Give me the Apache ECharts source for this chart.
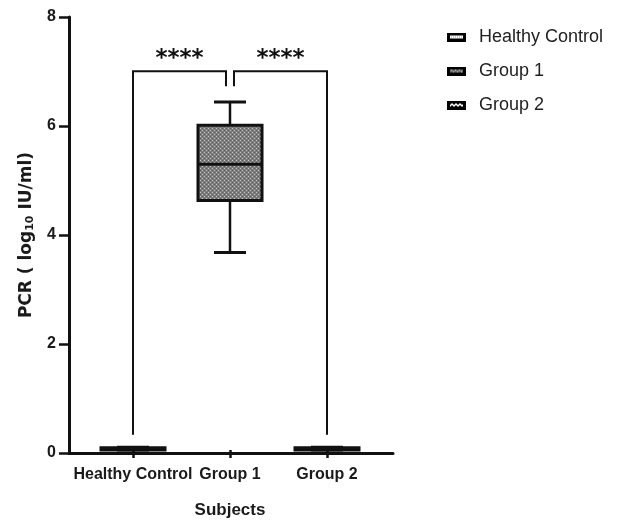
<!DOCTYPE html>
<html>
<head>
<meta charset="utf-8">
<script src="https://cdn.jsdelivr.net/npm/echarts@6/dist/echarts.min.js"></script>
<style>
  html, body { margin: 0; padding: 0; background: #fff; }
  #chart { width: 618px; height: 524px; }
</style>
</head>
<body>
<div id="chart"></div>
<script>
// Groups on the x axis
const categories = ['Healthy Control', 'Group 1', 'Group 2'];
// Five-number summaries per group: min, Q1, median, Q3, max (log10 IU/ml)
const healthyControl = [0, 0, 0.02, 0.04, 0.05];
const group1 = [3.65, 4.61, 5.28, 6.0, 6.43];
const group2 = [0, 0, 0.02, 0.04, 0.05];
// Value axis ticks
const yTicks = [0, 2, 4, 6, 8];
// Significance brackets: [from group, to group, bracket level, end level at 'from', end level at 'to', label level]
const brackets = [
  [0, 1, 7.0, 0.28, 6.72, 7.3],
  [2, 1, 7.0, 0.28, 6.72, 7.3]
];
const bracketLabels = ['****', '****'];

const INK = '#111';
const TEXT = '#1a1a1a';
const FONT = "'Liberation Sans', Arial, sans-serif";

// Dotted grey fill used for the Group 1 box
function makeDotPattern() {
  const c = document.createElement('canvas');
  c.width = 4; c.height = 4;
  const g = c.getContext('2d');
  g.fillStyle = '#7c7c7c';
  g.fillRect(0, 0, 4, 4);
  g.fillStyle = '#c4c4c4';
  g.fillRect(0, 0, 1, 1);
  g.fillRect(2, 2, 1, 1);
  g.fillStyle = '#5e5e5e';
  g.fillRect(2, 0, 1, 1);
  g.fillRect(0, 2, 1, 1);
  return c;
}

// Small legend swatches
function makeIcon(kind) {
  const w = 19, h = 9;
  const c = document.createElement('canvas');
  c.width = w; c.height = h;
  const g = c.getContext('2d');
  g.fillStyle = '#000';
  g.fillRect(0, 0, w, h);
  if (kind === 0) {
    g.fillStyle = '#fff';
    g.fillRect(3, 3, w - 6, h - 6);
    g.fillStyle = '#9a9a9a';
    for (let x = 4; x < w - 4; x += 2) g.fillRect(x, 4, 1, 1);
  } else if (kind === 1) {
    g.fillStyle = '#6e6e6e';
    g.fillRect(3, 3, w - 6, h - 6);
    g.fillStyle = '#d0d0d0';
    for (let x = 4; x < w - 4; x += 2) g.fillRect(x, (x % 4 === 0) ? 3 : 5, 1, 1);
  } else {
    g.fillStyle = '#fff';
    for (let x = 3; x < w - 3; x++) {
      const y = (Math.floor(x / 2) % 2 === 0) ? 3 : 5;
      g.fillRect(x, y, 1, 1);
      g.fillRect(x, 4, 1, 1);
    }
  }
  return c.toDataURL();
}

const dotPattern = makeDotPattern();
const boxFills = ['#ffffff', { image: dotPattern, repeat: 'repeat' }, '#ffffff'];
const summaries = [healthyControl, group1, group2];

function boxItem(params, api) {
  const c = api.value(0);
  const pMin = api.coord([c, api.value(1)]);
  const pQ1 = api.coord([c, api.value(2)]);
  const pMed = api.coord([c, api.value(3)]);
  const pQ3 = api.coord([c, api.value(4)]);
  const pMax = api.coord([c, api.value(5)]);
  const band = api.size([1, 0])[0];
  const hw = band * 0.33;
  const cw = band * 0.165;
  const x = pMed[0];
  const line = { stroke: INK, lineWidth: 2.5 };
  return {
    type: 'group',
    children: [
      { type: 'line', shape: { x1: x, y1: pMax[1], x2: x, y2: pQ3[1] }, style: line },
      { type: 'line', shape: { x1: x, y1: pQ1[1], x2: x, y2: pMin[1] }, style: line },
      { type: 'line', shape: { x1: x - cw, y1: pMax[1], x2: x + cw, y2: pMax[1] }, style: { stroke: INK, lineWidth: 3 } },
      { type: 'line', shape: { x1: x - cw, y1: pMin[1], x2: x + cw, y2: pMin[1] }, style: { stroke: INK, lineWidth: 3 } },
      {
        type: 'rect',
        shape: { x: x - hw, y: pQ3[1], width: 2 * hw, height: pQ1[1] - pQ3[1] },
        style: { fill: boxFills[c], stroke: INK, lineWidth: 3 }
      },
      { type: 'line', shape: { x1: x - hw, y1: pMed[1], x2: x + hw, y2: pMed[1] }, style: { stroke: INK, lineWidth: 3 } }
    ]
  };
}

function bracketItem(params, api) {
  const from = api.value(0), to = api.value(1);
  const a = api.coord([from, api.value(3)]);
  const t = api.coord([from, api.value(2)]);
  const b = api.coord([to, api.value(4)]);
  const s = api.coord([from, api.value(5)]);
  const dir = Math.sign(a[0] - b[0]);
  const bx = b[0] + dir * 4;
  const mid = (a[0] + bx) / 2;
  return {
    type: 'group',
    children: [
      {
        type: 'polyline',
        shape: { points: [[a[0], a[1]], [a[0], t[1]], [bx, t[1]], [bx, b[1]]] },
        style: { stroke: INK, fill: null, lineWidth: 2 }
      },
      {
        type: 'text',
        x: mid, y: s[1] + 4,
        style: {
          text: bracketLabels[params.dataIndex],
          font: "bold 23px 'DejaVu Sans', sans-serif",
          fill: INK,
          align: 'center', textAlign: 'center',
          verticalAlign: 'middle', textVerticalAlign: 'middle'
        }
      }
    ]
  };
}

const series = categories.map((name, i) => ({
  name: name,
  type: 'custom',
  xAxisIndex: 1,
  yAxisIndex: 1,
  renderItem: boxItem,
  encode: { x: 0, y: [1, 2, 3, 4, 5] },
  data: [[i].concat(summaries[i])],
  z: 5
}));
series.push({
  type: 'custom',
  xAxisIndex: 1,
  yAxisIndex: 1,
  renderItem: bracketItem,
  encode: { x: [0, 1], y: [2, 3, 4, 5] },
  data: brackets,
  z: 4
});

const chart = echarts.init(document.getElementById('chart'), null, { renderer: 'canvas' });
chart.setOption({
  animation: false,
  backgroundColor: '#fff',
  legend: {
    orient: 'vertical',
    left: 442,
    top: 23,
    itemWidth: 19,
    itemHeight: 9,
    itemGap: 16,
    textStyle: { fontSize: 18, color: '#222', fontFamily: FONT, padding: [0, 0, 0, 8] },
    data: categories.map((n, i) => ({ name: n, icon: 'image://' + makeIcon(i) }))
  },
  grid: [
    { left: 69, right: 225, top: 17, bottom: 71 },
    { left: 84.5, right: 242.5, top: 17, bottom: 71 }
  ],
  xAxis: [
    {
      type: 'value', gridIndex: 0, min: 0, max: 1,
      axisLine: { show: true, onZero: false, lineStyle: { color: INK, width: 3 } },
      axisTick: { show: false }, axisLabel: { show: false }, splitLine: { show: false }
    },
    {
      type: 'category', gridIndex: 1, data: categories,
      axisLine: { show: false, onZero: false },
      axisTick: { show: true, alignWithLabel: true, length: 8, lineStyle: { color: INK, width: 2.5 } },
      axisLabel: { interval: 0, margin: 17, fontSize: 16, fontWeight: 'bold', color: TEXT, fontFamily: FONT },
      name: 'Subjects',
      nameLocation: 'middle',
      nameGap: 52,
      nameTextStyle: { fontSize: 17, fontWeight: 'bold', color: TEXT, fontFamily: FONT }
    }
  ],
  yAxis: [
    {
      type: 'value', gridIndex: 0,
      min: yTicks[0], max: yTicks[yTicks.length - 1], interval: yTicks[1] - yTicks[0],
      axisLine: { show: true, lineStyle: { color: INK, width: 3 } },
      axisTick: { show: true, length: 10, lineStyle: { color: INK, width: 2.5 } },
      axisLabel: { margin: 13, fontSize: 16, fontWeight: 'bold', color: TEXT, fontFamily: FONT },
      splitLine: { show: false },
      name: 'PCR ( log{sub|10} IU/ml)',
      nameLocation: 'middle',
      nameGap: 33,
      nameTextStyle: {
        fontSize: 17, fontWeight: 'bold', color: TEXT, fontFamily: "'DejaVu Sans', sans-serif",
        rich: {
          sub: { fontSize: 11, fontWeight: 'bold', color: TEXT, fontFamily: "'DejaVu Sans', sans-serif", padding: [8, 0, 0, 0] }
        }
      }
    },
    {
      type: 'value', gridIndex: 1,
      min: yTicks[0], max: yTicks[yTicks.length - 1],
      show: false
    }
  ],
  series: series
});
</script>
</body>
</html>
